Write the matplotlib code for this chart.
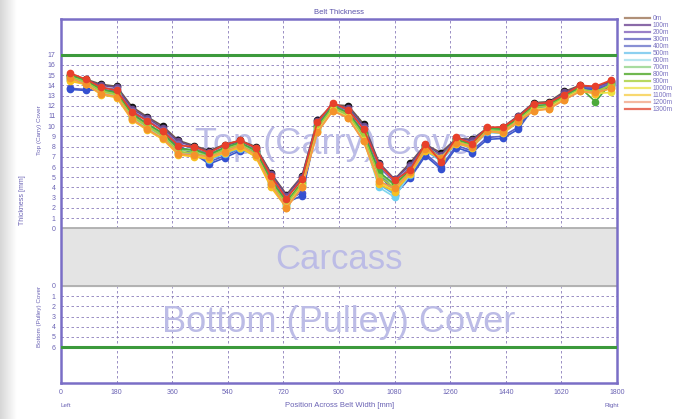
import matplotlib
matplotlib.use('Agg')
import matplotlib.pyplot as plt
import numpy as np

plt.rcParams['font.family'] = ['Liberation Sans', 'DejaVu Sans']

# positions across the belt [mm]
positions = [30, 80, 130, 180, 230, 280, 330, 380, 430, 480, 530, 580,
             630, 680, 730, 780, 830, 880, 930, 980, 1030, 1080, 1130, 1180,
             1230, 1280, 1330, 1380, 1430, 1480, 1530, 1580, 1630, 1680, 1730, 1780]

# top cover thickness [mm] per measurement distance
t_0m = [15.0, 14.6, 14.1, 13.9, 11.9, 10.9, 10.0, 8.6, 8.1, 7.6, 8.2, 8.6,
        8.0, 5.4, 3.3, 5.1, 10.6, 12.1, 12.0, 10.2, 6.4, 4.8, 6.4, 8.2,
        7.4, 8.8, 8.7, 9.8, 9.9, 11.0, 12.3, 12.4, 13.4, 14.0, 13.8, 14.4]
t_100m = [14.9, 14.5, 14.0, 13.8, 11.7, 10.8, 9.8, 8.5, 8.0, 7.5, 8.1, 8.5,
          7.9, 5.3, 3.2, 5.0, 10.5, 12.1, 11.8, 10.0, 6.3, 4.8, 6.2, 8.2,
          7.2, 8.8, 8.6, 9.8, 9.8, 11.0, 12.2, 12.3, 13.3, 13.9, 13.8, 14.3]
t_200m = [14.7, 14.3, 13.8, 13.6, 11.5, 10.6, 9.6, 8.3, 7.8, 7.3, 7.9, 8.3,
          7.7, 5.0, 3.0, 4.7, 10.3, 12.0, 11.6, 9.8, 6.0, 4.5, 6.0, 8.0,
          7.0, 8.6, 8.4, 9.6, 9.6, 10.8, 12.0, 12.1, 13.1, 13.8, 13.7, 14.2]
t_300m = [13.7, 13.6, 13.6, 13.4, 11.3, 10.2, 9.3, 8.0, 7.5, 6.5, 7.1, 7.8,
          7.6, 4.8, 2.7, 3.5, 10.1, 11.9, 11.4, 9.4, 5.6, 3.6, 5.1, 7.3,
          6.0, 8.1, 7.6, 8.9, 9.0, 9.9, 11.9, 12.0, 12.9, 13.8, 13.6, 14.1]
t_400m = [13.6, 13.5, 13.6, 13.3, 11.2, 10.0, 9.1, 7.9, 7.3, 6.3, 6.9, 7.6,
          7.5, 4.6, 2.5, 3.2, 10.0, 11.8, 11.3, 9.2, 5.4, 3.3, 4.9, 7.1,
          5.8, 7.9, 7.4, 8.7, 8.8, 9.7, 11.8, 11.9, 12.8, 13.7, 13.5, 14.0]
t_500m = [14.5, 14.2, 13.4, 13.1, 10.9, 9.9, 9.0, 7.5, 7.2, 6.7, 7.3, 7.8,
          7.1, 4.3, 2.3, 4.1, 9.7, 11.7, 11.0, 8.8, 4.3, 3.3, 5.2, 7.6,
          6.6, 8.3, 7.9, 9.4, 9.3, 10.4, 11.7, 11.8, 12.7, 13.5, 13.3, 13.9]
t_600m = [14.6, 14.3, 13.3, 13.0, 10.8, 9.8, 8.9, 7.4, 7.1, 6.8, 7.4, 7.9,
          7.2, 4.2, 2.2, 4.1, 9.6, 11.6, 10.9, 8.7, 4.0, 3.05, 5.3, 7.7,
          6.7, 8.4, 8.0, 9.5, 9.4, 10.5, 11.6, 11.8, 12.7, 13.5, 13.3, 13.9]
t_700m = [14.9, 14.4, 13.5, 13.2, 11.1, 10.1, 9.2, 7.7, 7.6, 7.1, 7.8, 8.3,
          7.5, 4.6, 2.5, 4.4, 9.9, 11.9, 11.2, 9.2, 5.3, 4.2, 5.6, 8.0,
          6.7, 8.6, 8.1, 9.7, 9.6, 10.7, 11.9, 12.0, 12.9, 13.7, 13.2, 14.1]
t_800m = [15.0, 14.5, 13.6, 13.3, 11.2, 10.2, 9.3, 7.8, 7.7, 7.2, 7.9, 8.4,
          7.6, 4.7, 2.6, 4.5, 10.0, 12.0, 11.3, 9.3, 5.5, 4.3, 5.7, 8.1,
          6.8, 8.7, 8.2, 9.8, 9.7, 10.8, 12.0, 12.1, 13.0, 13.8, 12.4, 14.2]
t_900m = [14.8, 14.3, 13.4, 13.1, 10.9, 10.0, 9.0, 7.5, 7.4, 7.0, 7.7, 8.2,
          7.3, 4.4, 2.4, 4.3, 9.8, 11.8, 11.1, 9.0, 5.0, 4.0, 5.5, 7.9,
          6.9, 8.5, 8.1, 9.6, 9.5, 10.6, 11.8, 12.0, 12.8, 13.6, 13.4, 14.0]
t_1000m = [14.5, 14.1, 13.2, 12.9, 10.7, 9.7, 8.8, 7.3, 7.1, 6.9, 7.5, 8.0,
           7.1, 4.1, 2.1, 4.1, 9.5, 11.6, 10.9, 8.6, 4.5, 3.7, 5.4, 7.7,
           6.9, 8.4, 8.0, 9.5, 9.4, 10.5, 11.6, 11.8, 12.7, 13.5, 13.2, 13.3]
t_1100m = [14.4, 14.1, 13.1, 12.8, 10.6, 9.6, 8.7, 7.2, 7.0, 6.8, 7.4, 7.9,
           7.0, 4.0, 2.0, 4.0, 9.4, 11.5, 10.8, 8.5, 4.3, 3.6, 5.3, 7.6,
           6.8, 8.3, 7.9, 9.5, 9.3, 10.4, 11.5, 11.7, 12.6, 13.4, 13.2, 13.7]
t_1200m = [14.7, 14.1, 13.2, 12.9, 10.7, 9.7, 8.8, 7.3, 7.2, 7.0, 7.5, 8.1,
           7.2, 4.3, 2.0, 4.0, 9.4, 11.5, 10.8, 8.5, 4.6, 3.9, 5.5, 7.8,
           6.9, 8.4, 8.0, 9.5, 9.4, 10.5, 11.5, 11.7, 12.6, 13.4, 13.3, 13.7]
t_1300m = [15.2, 14.6, 13.8, 13.5, 11.4, 10.5, 9.5, 8.1, 8.0, 7.4, 8.2, 8.6,
           7.9, 5.1, 2.9, 4.8, 10.4, 12.3, 11.6, 9.7, 6.2, 4.7, 5.7, 8.3,
           6.5, 8.9, 8.3, 9.9, 9.9, 10.9, 12.2, 12.3, 13.1, 14.0, 13.9, 14.5]

series_names = ['0m', '100m', '200m', '300m', '400m', '500m', '600m', '700m',
                '800m', '900m', '1000m', '1100m', '1200m', '1300m']
series_values = [t_0m, t_100m, t_200m, t_300m, t_400m, t_500m, t_600m, t_700m,
                 t_800m, t_900m, t_1000m, t_1100m, t_1200m, t_1300m]
line_colors = ['#6e5848', '#6a4a8c', '#7c64b4', '#5a5ec4', '#3c58cc', '#58b4e8',
               '#7fd6ec', '#8ccc84', '#4caa3a', '#a6cc3c', '#ece040', '#f8c020',
               '#f49a4c', '#e8402a']
marker_colors = ['#111111', '#6a4a8c', '#7c64b4', '#4a52c8', '#3450d0', '#58b4e8',
                 '#6ed0f0', '#8ccc84', '#4caa3a', '#a6cc3c', '#ece040', '#f8c020',
                 '#f4922a', '#e8402a']
legend_colors = ['#b09078', '#8a6aa8', '#9a80c8', '#8080cc', '#8890d4', '#8cd0f0',
                 '#b8e6f0', '#a8dca0', '#70b850', '#b8d860', '#f0e870', '#f8d870',
                 '#f4b8a0', '#e87060']

top_ticks = list(range(0, 18))
bottom_ticks = list(range(0, 7))
x_ticks = [0, 180, 360, 540, 720, 900, 1080, 1260, 1440, 1620, 1800]

# layout in "top cover mm" units
carcass_h = 5.65
bot0 = -carcass_h
y_top, y_bot = 20.5, -15.16

frame_col = '#7a6ec6'
grid_col = '#8a7cba'
text_col = '#6a62b4'
water_col = '#bcbce6'

fig = plt.figure(figsize=(6.79, 4.19), dpi=100)

# scanned-page shading on the left edge
bg = fig.add_axes([0, 0, 0.025, 1])
grad = np.linspace(0.84, 1.0, 50).reshape(1, -1)
bg.imshow(grad, cmap='gray', vmin=0, vmax=1, aspect='auto', extent=[0, 1, 0, 1])
bg.axis('off')

ax = fig.add_axes([0.0898, 0.0859, 0.8189, 0.8688])
ax.set_xlim(0, 1800)
ax.set_ylim(y_bot, y_top)

# grid
for xv in x_ticks[1:-1]:
    ax.axvline(xv, color=grid_col, lw=0.6, ls=(0, (3, 3)), zorder=1)
for yv in range(1, 17):
    ax.axhline(yv, color=grid_col, lw=0.6, ls=(0, (3, 3)), zorder=1)
for k in range(1, 6):
    ax.axhline(bot0 - k, color=grid_col, lw=0.6, ls=(0, (3, 3)), zorder=1)

# carcass band
ax.axhspan(bot0, 0, color='#e4e4e4', zorder=2)
ax.axhline(0, color='#a8a8a8', lw=1.2, zorder=2)
ax.axhline(bot0, color='#a8a8a8', lw=1.2, zorder=2)

# nominal cover limits
ax.axhline(17, color='#3c9a3c', lw=2.2, zorder=3)
ax.axhline(bot0 - 6, color='#3c9a3c', lw=2.2, zorder=3)

# watermark labels
ax.text(900, 8.2, 'Top (Carry) Cover', fontsize=26, color=water_col,
        ha='center', va='center', zorder=3)
ax.text(900, -3.1, 'Carcass', fontsize=25, color=water_col,
        ha='center', va='center', zorder=3)
ax.text(900, -9.2, 'Bottom (Pulley) Cover', fontsize=26, color=water_col,
        ha='center', va='center', zorder=3)

for name, vals, lc, mc in zip(series_names, series_values, line_colors, marker_colors):
    ax.plot(positions, vals, color=lc, lw=1.2, marker='o', markersize=4.5,
            markerfacecolor=mc, markeredgecolor=mc, zorder=4)

# ticks
yt = top_ticks + [bot0 - k for k in bottom_ticks]
ytl = [str(v) for v in top_ticks] + [str(k) for k in bottom_ticks]
ax.set_yticks(yt)
ax.set_yticklabels(ytl)
ax.set_xticks(x_ticks)
ax.set_xticklabels([str(v) for v in x_ticks])
ax.tick_params(length=0, labelsize=5, colors=text_col, pad=4)
for s in ax.spines.values():
    s.set_color(frame_col)
    s.set_linewidth(1.8)

# texts around the axes
fig.text(339 / 679, 1 - 12 / 419, 'Belt Thickness', fontsize=5.5, color='#5a52aa',
         ha='center', va='center')
fig.text(340 / 679, 1 - 405 / 419, 'Position Across Belt Width [mm]', fontsize=5.5,
         color=text_col, ha='center', va='center')
fig.text(60 / 679, 1 - 405 / 419, 'Left', fontsize=4.5, color=text_col,
         ha='left', va='center')
fig.text(619 / 679, 1 - 405 / 419, 'Right', fontsize=4.5, color=text_col,
         ha='right', va='center')
fig.text(22 / 679, 1 - 200 / 419, 'Thickness [mm]', fontsize=5, color=text_col,
         rotation=90, ha='center', va='center')
fig.text(39 / 679, 1 - 130 / 419, 'Top (Carry) Cover', fontsize=4.5, color=text_col,
         rotation=90, ha='center', va='center')
fig.text(39 / 679, 1 - 316 / 419, 'Bottom (Pulley) Cover', fontsize=4.5, color=text_col,
         rotation=90, ha='center', va='center')

# legend outside on the right
handles = [plt.Line2D([], [], color=c, lw=1.6) for c in legend_colors]
fig.legend(handles, series_names, loc='upper left',
           bbox_to_anchor=(625 / 679, 1 - 15 / 419), frameon=False,
           fontsize=4.8, labelcolor='#7a72c0', handlelength=3.8,
           handletextpad=0.4, labelspacing=0.0, borderaxespad=0, borderpad=0)

fig.savefig('out.png', dpi=100)
